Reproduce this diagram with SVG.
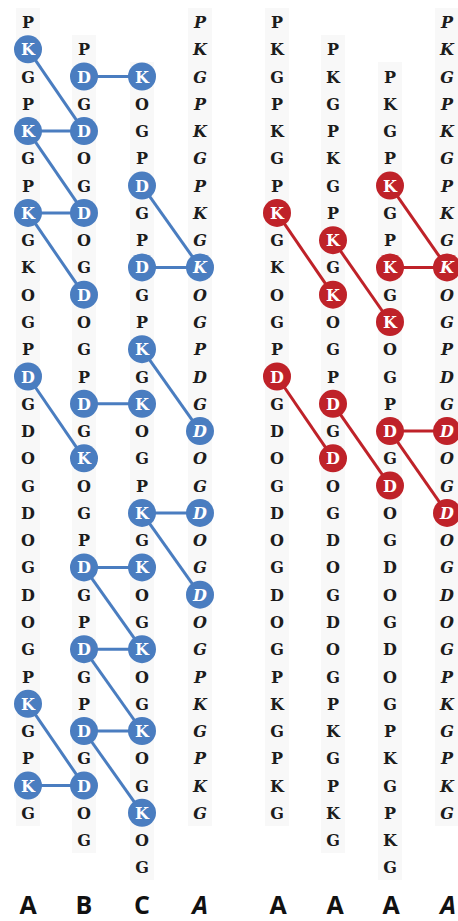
<svg xmlns="http://www.w3.org/2000/svg" width="458" height="921" viewBox="0 0 458 921">
<style>
.bg{fill:#f8f8f8}
.t{font-family:"DejaVu Serif","Liberation Serif",serif;font-weight:bold;font-size:16px;fill:#1c1c1c;text-anchor:middle}
.i{font-style:italic}
.w{fill:#fff}
.cb{fill:#4a7dc0}
.cr{fill:#bf2229}
.lb{stroke:#4a7dc0;stroke-width:3;fill:none}
.lr{stroke:#bf2229;stroke-width:3;fill:none}
.lab{font-family:"Open Sans","Liberation Sans",Arial,sans-serif;font-weight:bold;font-size:25px;fill:#111;text-anchor:middle}
</style>
<g id="backgrounds">
<rect class="bg" x="16" y="8" width="24" height="818"/>
<rect class="bg" x="72" y="35" width="24" height="818"/>
<rect class="bg" x="130" y="62" width="24" height="818"/>
<rect class="bg" x="188" y="8" width="24" height="818"/>
<rect class="bg" x="265" y="8" width="24" height="818"/>
<rect class="bg" x="321" y="35" width="24" height="818"/>
<rect class="bg" x="378" y="62" width="24" height="818"/>
<rect class="bg" x="435" y="8" width="23" height="818"/>
</g>
<g id="connectors">
<line class="lb" x1="28" y1="49.3" x2="84" y2="131.1"/>
<line class="lb" x1="84" y1="76.5" x2="142" y2="76.5"/>
<line class="lb" x1="28" y1="131.1" x2="84" y2="131.1"/>
<line class="lb" x1="28" y1="131.1" x2="84" y2="212.9"/>
<line class="lb" x1="28" y1="212.9" x2="84" y2="212.9"/>
<line class="lb" x1="28" y1="212.9" x2="84" y2="294.7"/>
<line class="lb" x1="142" y1="185.6" x2="200" y2="267.4"/>
<line class="lb" x1="142" y1="267.4" x2="200" y2="267.4"/>
<line class="lb" x1="28" y1="376.5" x2="84" y2="458.3"/>
<line class="lb" x1="84" y1="403.8" x2="142" y2="403.8"/>
<line class="lb" x1="142" y1="349.2" x2="200" y2="431.1"/>
<line class="lb" x1="142" y1="512.9" x2="200" y2="512.9"/>
<line class="lb" x1="142" y1="512.9" x2="200" y2="594.7"/>
<line class="lb" x1="84" y1="567.4" x2="142" y2="567.4"/>
<line class="lb" x1="84" y1="567.4" x2="142" y2="649.2"/>
<line class="lb" x1="84" y1="649.2" x2="142" y2="649.2"/>
<line class="lb" x1="84" y1="649.2" x2="142" y2="731"/>
<line class="lb" x1="84" y1="731" x2="142" y2="731"/>
<line class="lb" x1="84" y1="731" x2="142" y2="812.8"/>
<line class="lb" x1="28" y1="703.8" x2="84" y2="785.6"/>
<line class="lb" x1="28" y1="785.6" x2="84" y2="785.6"/>
<line class="lr" x1="277" y1="212.9" x2="333" y2="294.7"/>
<line class="lr" x1="333" y1="240.2" x2="390" y2="322"/>
<line class="lr" x1="390" y1="185.6" x2="447" y2="267.4"/>
<line class="lr" x1="390" y1="267.4" x2="447" y2="267.4"/>
<line class="lr" x1="277" y1="376.5" x2="333" y2="458.3"/>
<line class="lr" x1="333" y1="403.8" x2="390" y2="485.6"/>
<line class="lr" x1="390" y1="431.1" x2="447" y2="431.1"/>
<line class="lr" x1="390" y1="431.1" x2="447" y2="512.9"/>
</g>
<g id="colA" class="t">
<text x="28" y="28">P</text><text x="28" y="82.5">G</text><text x="28" y="109.8">P</text><text x="28" y="164.4">G</text><text x="28" y="191.6">P</text><text x="28" y="246.2">G</text><text x="28" y="273.4">K</text><text x="28" y="300.7">O</text><text x="28" y="328">G</text><text x="28" y="355.2">P</text><text x="28" y="409.8">G</text><text x="28" y="437.1">D</text><text x="28" y="464.3">O</text><text x="28" y="491.6">G</text><text x="28" y="518.9">D</text><text x="28" y="546.1">O</text><text x="28" y="573.4">G</text><text x="28" y="600.7">D</text><text x="28" y="627.9">O</text><text x="28" y="655.2">G</text><text x="28" y="682.5">P</text><text x="28" y="737">G</text><text x="28" y="764.3">P</text><text x="28" y="818.8">G</text>
</g>
<g id="colB" class="t">
<text x="84" y="55.3">P</text><text x="84" y="109.8">G</text><text x="84" y="164.4">O</text><text x="84" y="191.6">G</text><text x="84" y="246.2">O</text><text x="84" y="273.4">G</text><text x="84" y="328">O</text><text x="84" y="355.2">G</text><text x="84" y="382.5">P</text><text x="84" y="437.1">G</text><text x="84" y="491.6">O</text><text x="84" y="518.9">G</text><text x="84" y="546.1">P</text><text x="84" y="600.7">G</text><text x="84" y="627.9">P</text><text x="84" y="682.5">G</text><text x="84" y="709.8">P</text><text x="84" y="764.3">G</text><text x="84" y="818.8">O</text><text x="84" y="846.1">G</text>
</g>
<g id="colC" class="t">
<text x="142" y="109.8">O</text><text x="142" y="137.1">G</text><text x="142" y="164.4">P</text><text x="142" y="218.9">G</text><text x="142" y="246.2">P</text><text x="142" y="300.7">G</text><text x="142" y="328">P</text><text x="142" y="382.5">G</text><text x="142" y="437.1">O</text><text x="142" y="464.3">G</text><text x="142" y="491.6">P</text><text x="142" y="546.1">G</text><text x="142" y="600.7">O</text><text x="142" y="627.9">G</text><text x="142" y="682.5">O</text><text x="142" y="709.8">G</text><text x="142" y="764.3">O</text><text x="142" y="791.6">G</text><text x="142" y="846.1">O</text><text x="142" y="873.4">G</text>
</g>
<g id="colAi" class="t i">
<text x="200" y="28">P</text><text x="200" y="55.3">K</text><text x="200" y="82.5">G</text><text x="200" y="109.8">P</text><text x="200" y="137.1">K</text><text x="200" y="164.4">G</text><text x="200" y="191.6">P</text><text x="200" y="218.9">K</text><text x="200" y="246.2">G</text><text x="200" y="300.7">O</text><text x="200" y="328">G</text><text x="200" y="355.2">P</text><text x="200" y="382.5">D</text><text x="200" y="409.8">G</text><text x="200" y="464.3">O</text><text x="200" y="491.6">G</text><text x="200" y="546.1">O</text><text x="200" y="573.4">G</text><text x="200" y="627.9">O</text><text x="200" y="655.2">G</text><text x="200" y="682.5">P</text><text x="200" y="709.8">K</text><text x="200" y="737">G</text><text x="200" y="764.3">P</text><text x="200" y="791.6">K</text><text x="200" y="818.8">G</text>
</g>
<g id="colA1" class="t">
<text x="277" y="28">P</text><text x="277" y="55.3">K</text><text x="277" y="82.5">G</text><text x="277" y="109.8">P</text><text x="277" y="137.1">K</text><text x="277" y="164.4">G</text><text x="277" y="191.6">P</text><text x="277" y="246.2">G</text><text x="277" y="273.4">K</text><text x="277" y="300.7">O</text><text x="277" y="328">G</text><text x="277" y="355.2">P</text><text x="277" y="409.8">G</text><text x="277" y="437.1">D</text><text x="277" y="464.3">O</text><text x="277" y="491.6">G</text><text x="277" y="518.9">D</text><text x="277" y="546.1">O</text><text x="277" y="573.4">G</text><text x="277" y="600.7">D</text><text x="277" y="627.9">O</text><text x="277" y="655.2">G</text><text x="277" y="682.5">P</text><text x="277" y="709.8">K</text><text x="277" y="737">G</text><text x="277" y="764.3">P</text><text x="277" y="791.6">K</text><text x="277" y="818.8">G</text>
</g>
<g id="colA2" class="t">
<text x="333" y="55.3">P</text><text x="333" y="82.5">K</text><text x="333" y="109.8">G</text><text x="333" y="137.1">P</text><text x="333" y="164.4">K</text><text x="333" y="191.6">G</text><text x="333" y="218.9">P</text><text x="333" y="273.4">G</text><text x="333" y="328">O</text><text x="333" y="355.2">G</text><text x="333" y="382.5">P</text><text x="333" y="437.1">G</text><text x="333" y="491.6">O</text><text x="333" y="518.9">G</text><text x="333" y="546.1">D</text><text x="333" y="573.4">O</text><text x="333" y="600.7">G</text><text x="333" y="627.9">D</text><text x="333" y="655.2">O</text><text x="333" y="682.5">G</text><text x="333" y="709.8">P</text><text x="333" y="737">K</text><text x="333" y="764.3">G</text><text x="333" y="791.6">P</text><text x="333" y="818.8">K</text><text x="333" y="846.1">G</text>
</g>
<g id="colA3" class="t">
<text x="390" y="82.5">P</text><text x="390" y="109.8">K</text><text x="390" y="137.1">G</text><text x="390" y="164.4">P</text><text x="390" y="218.9">G</text><text x="390" y="246.2">P</text><text x="390" y="300.7">G</text><text x="390" y="355.2">O</text><text x="390" y="382.5">G</text><text x="390" y="409.8">P</text><text x="390" y="464.3">G</text><text x="390" y="518.9">O</text><text x="390" y="546.1">G</text><text x="390" y="573.4">D</text><text x="390" y="600.7">O</text><text x="390" y="627.9">G</text><text x="390" y="655.2">D</text><text x="390" y="682.5">O</text><text x="390" y="709.8">G</text><text x="390" y="737">P</text><text x="390" y="764.3">K</text><text x="390" y="791.6">G</text><text x="390" y="818.8">P</text><text x="390" y="846.1">K</text><text x="390" y="873.4">G</text>
</g>
<g id="colA4i" class="t i">
<text x="447" y="28">P</text><text x="447" y="55.3">K</text><text x="447" y="82.5">G</text><text x="447" y="109.8">P</text><text x="447" y="137.1">K</text><text x="447" y="164.4">G</text><text x="447" y="191.6">P</text><text x="447" y="218.9">K</text><text x="447" y="246.2">G</text><text x="447" y="300.7">O</text><text x="447" y="328">G</text><text x="447" y="355.2">P</text><text x="447" y="382.5">D</text><text x="447" y="409.8">G</text><text x="447" y="464.3">O</text><text x="447" y="491.6">G</text><text x="447" y="546.1">O</text><text x="447" y="573.4">G</text><text x="447" y="600.7">D</text><text x="447" y="627.9">O</text><text x="447" y="655.2">G</text><text x="447" y="682.5">P</text><text x="447" y="709.8">K</text><text x="447" y="737">G</text><text x="447" y="764.3">P</text><text x="447" y="791.6">K</text><text x="447" y="818.8">G</text>
</g>
<g id="A-K1"><circle class="cb" cx="28" cy="49.3" r="14"/><text class="t w" x="28" y="55.3">K</text></g>
<g id="A-K4"><circle class="cb" cx="28" cy="131.1" r="14"/><text class="t w" x="28" y="137.1">K</text></g>
<g id="A-K7"><circle class="cb" cx="28" cy="212.9" r="14"/><text class="t w" x="28" y="218.9">K</text></g>
<g id="A-D13"><circle class="cb" cx="28" cy="376.5" r="14"/><text class="t w" x="28" y="382.5">D</text></g>
<g id="A-K25"><circle class="cb" cx="28" cy="703.8" r="14"/><text class="t w" x="28" y="709.8">K</text></g>
<g id="A-K28"><circle class="cb" cx="28" cy="785.6" r="14"/><text class="t w" x="28" y="791.6">K</text></g>
<g id="B-D2"><circle class="cb" cx="84" cy="76.5" r="14"/><text class="t w" x="84" y="82.5">D</text></g>
<g id="B-D4"><circle class="cb" cx="84" cy="131.1" r="14"/><text class="t w" x="84" y="137.1">D</text></g>
<g id="B-D7"><circle class="cb" cx="84" cy="212.9" r="14"/><text class="t w" x="84" y="218.9">D</text></g>
<g id="B-D10"><circle class="cb" cx="84" cy="294.7" r="14"/><text class="t w" x="84" y="300.7">D</text></g>
<g id="B-D14"><circle class="cb" cx="84" cy="403.8" r="14"/><text class="t w" x="84" y="409.8">D</text></g>
<g id="B-K16"><circle class="cb" cx="84" cy="458.3" r="14"/><text class="t w" x="84" y="464.3">K</text></g>
<g id="B-D20"><circle class="cb" cx="84" cy="567.4" r="14"/><text class="t w" x="84" y="573.4">D</text></g>
<g id="B-D23"><circle class="cb" cx="84" cy="649.2" r="14"/><text class="t w" x="84" y="655.2">D</text></g>
<g id="B-D26"><circle class="cb" cx="84" cy="731" r="14"/><text class="t w" x="84" y="737">D</text></g>
<g id="B-D28"><circle class="cb" cx="84" cy="785.6" r="14"/><text class="t w" x="84" y="791.6">D</text></g>
<g id="C-K2"><circle class="cb" cx="142" cy="76.5" r="14"/><text class="t w" x="142" y="82.5">K</text></g>
<g id="C-D6"><circle class="cb" cx="142" cy="185.6" r="14"/><text class="t w" x="142" y="191.6">D</text></g>
<g id="C-D9"><circle class="cb" cx="142" cy="267.4" r="14"/><text class="t w" x="142" y="273.4">D</text></g>
<g id="C-K12"><circle class="cb" cx="142" cy="349.2" r="14"/><text class="t w" x="142" y="355.2">K</text></g>
<g id="C-K14"><circle class="cb" cx="142" cy="403.8" r="14"/><text class="t w" x="142" y="409.8">K</text></g>
<g id="C-K18"><circle class="cb" cx="142" cy="512.9" r="14"/><text class="t w" x="142" y="518.9">K</text></g>
<g id="C-K20"><circle class="cb" cx="142" cy="567.4" r="14"/><text class="t w" x="142" y="573.4">K</text></g>
<g id="C-K23"><circle class="cb" cx="142" cy="649.2" r="14"/><text class="t w" x="142" y="655.2">K</text></g>
<g id="C-K26"><circle class="cb" cx="142" cy="731" r="14"/><text class="t w" x="142" y="737">K</text></g>
<g id="C-K29"><circle class="cb" cx="142" cy="812.8" r="14"/><text class="t w" x="142" y="818.8">K</text></g>
<g id="Ai-K9"><circle class="cb" cx="200" cy="267.4" r="14"/><text class="t i w" x="200" y="273.4">K</text></g>
<g id="Ai-D15"><circle class="cb" cx="200" cy="431.1" r="14"/><text class="t i w" x="200" y="437.1">D</text></g>
<g id="Ai-D18"><circle class="cb" cx="200" cy="512.9" r="14"/><text class="t i w" x="200" y="518.9">D</text></g>
<g id="Ai-D21"><circle class="cb" cx="200" cy="594.7" r="14"/><text class="t i w" x="200" y="600.7">D</text></g>
<g id="A1-K7"><circle class="cr" cx="277" cy="212.9" r="14"/><text class="t w" x="277" y="218.9">K</text></g>
<g id="A1-D13"><circle class="cr" cx="277" cy="376.5" r="14"/><text class="t w" x="277" y="382.5">D</text></g>
<g id="A2-K8"><circle class="cr" cx="333" cy="240.2" r="14"/><text class="t w" x="333" y="246.2">K</text></g>
<g id="A2-K10"><circle class="cr" cx="333" cy="294.7" r="14"/><text class="t w" x="333" y="300.7">K</text></g>
<g id="A2-D14"><circle class="cr" cx="333" cy="403.8" r="14"/><text class="t w" x="333" y="409.8">D</text></g>
<g id="A2-D16"><circle class="cr" cx="333" cy="458.3" r="14"/><text class="t w" x="333" y="464.3">D</text></g>
<g id="A3-K6"><circle class="cr" cx="390" cy="185.6" r="14"/><text class="t w" x="390" y="191.6">K</text></g>
<g id="A3-K9"><circle class="cr" cx="390" cy="267.4" r="14"/><text class="t w" x="390" y="273.4">K</text></g>
<g id="A3-K11"><circle class="cr" cx="390" cy="322" r="14"/><text class="t w" x="390" y="328">K</text></g>
<g id="A3-D15"><circle class="cr" cx="390" cy="431.1" r="14"/><text class="t w" x="390" y="437.1">D</text></g>
<g id="A3-D17"><circle class="cr" cx="390" cy="485.6" r="14"/><text class="t w" x="390" y="491.6">D</text></g>
<g id="A4i-K9"><circle class="cr" cx="447" cy="267.4" r="14"/><text class="t i w" x="447" y="273.4">K</text></g>
<g id="A4i-D15"><circle class="cr" cx="447" cy="431.1" r="14"/><text class="t i w" x="447" y="437.1">D</text></g>
<g id="A4i-D18"><circle class="cr" cx="447" cy="512.9" r="14"/><text class="t i w" x="447" y="518.9">D</text></g>
<g id="labels" class="lab">
<text x="28" y="914">A</text><text x="84" y="914">B</text><text x="142" y="914">C</text><text x="200" y="914" font-style="italic">A</text>
<text x="278" y="914">A</text><text x="335" y="914">A</text><text x="391" y="914">A</text><text x="448" y="914" font-style="italic">A</text>
</g>
</svg>
